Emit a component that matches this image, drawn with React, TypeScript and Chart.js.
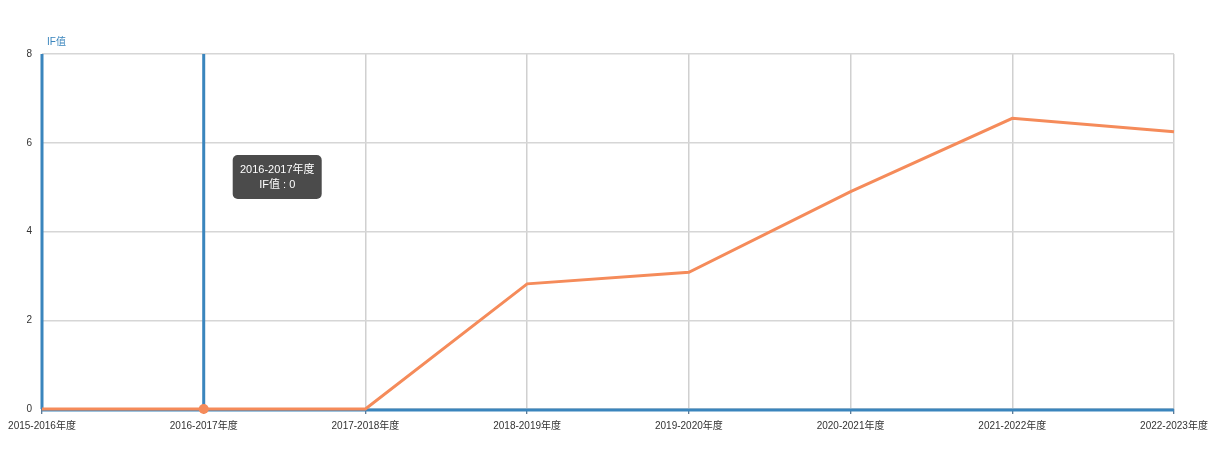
import React, { useEffect, useRef } from "react";
import { Chart, registerables } from "chart.js";

Chart.register(...registerables);

const categories = [
  "2015-2016年度",
  "2016-2017年度",
  "2017-2018年度",
  "2018-2019年度",
  "2019-2020年度",
  "2020-2021年度",
  "2021-2022年度",
  "2022-2023年度",
];
const ifValues = [0, 0, 0, 2.82, 3.08, 4.9, 6.55, 6.25];
const yTicks = [0, 2, 4, 6, 8];
const axisTitle = "IF值";
const activeIndex = 1;

const FONT = "'Liberation Sans', Arial, 'Noto Sans CJK SC', sans-serif";

const overlayPlugin = {
  id: "overlay",
  beforeDatasetsDraw(chart: any) {
    const { ctx, chartArea, scales } = chart;
    const x = scales.x.getPixelForValue(activeIndex);
    ctx.save();
    ctx.strokeStyle = "#3a85bd";
    ctx.lineWidth = 3;
    ctx.beginPath();
    ctx.moveTo(x, chartArea.top);
    ctx.lineTo(x, chartArea.bottom);
    ctx.stroke();
    ctx.beginPath();
    ctx.moveTo(chartArea.left, chartArea.top);
    ctx.lineTo(chartArea.left, chartArea.bottom);
    ctx.stroke();
    ctx.beginPath();
    ctx.moveTo(chartArea.left, chartArea.bottom + 1);
    ctx.lineTo(chartArea.right, chartArea.bottom + 1);
    ctx.stroke();
    ctx.fillStyle = "#3a85bd";
    ctx.font = `10px ${FONT}`;
    ctx.textAlign = "left";
    ctx.textBaseline = "middle";
    ctx.fillText(axisTitle, chartArea.left + 5, chartArea.top - 12);
    ctx.restore();
  },
  afterDatasetsDraw(chart: any) {
    const { ctx, chartArea, scales } = chart;
    const x = scales.x.getPixelForValue(activeIndex);
    const bx = x + 29;
    const by = chartArea.top + 101;
    const bw = 89;
    const bh = 44;
    ctx.save();
    ctx.fillStyle = "rgba(50,50,50,0.88)";
    ctx.beginPath();
    (ctx as any).roundRect(bx, by, bw, bh, 5);
    ctx.fill();
    ctx.fillStyle = "#fff";
    ctx.font = `11px ${FONT}`;
    ctx.textAlign = "center";
    ctx.textBaseline = "middle";
    ctx.fillText(categories[activeIndex], bx + bw / 2, by + 15);
    ctx.fillText(`${axisTitle} : ${ifValues[activeIndex]}`, bx + bw / 2, by + 30);
    ctx.restore();
  },
};

export default function App() {
  const ref = useRef<HTMLCanvasElement>(null);
  useEffect(() => {
    document.body.style.margin = "0";
    const chart = new Chart(ref.current!, {
      type: "line",
      data: {
        labels: categories,
        datasets: [
          {
            data: ifValues,
            borderColor: "#f58b5a",
            backgroundColor: "#f58b5a",
            borderWidth: 3,
            pointRadius: ifValues.map((_, i) => (i === activeIndex ? 5 : 0)),
            pointBorderWidth: 0,
            tension: 0,
            clip: false as any,
          },
        ],
      },
      options: {
        animation: false,
        responsive: false,
        maintainAspectRatio: false,
        layout: { padding: { left: 0, right: 49, top: 54, bottom: 0 } },
        plugins: { legend: { display: false }, tooltip: { enabled: false } },
        scales: {
          x: {
            type: "category",
            offset: false,
            border: { display: false },
            grid: {
              color: "#d0d0d0",
              lineWidth: 1.5,
              tickColor: "#2a4f73",
              tickLength: 5,
              tickWidth: 1,
            },
            ticks: {
              color: "#333",
              font: { size: 10, family: FONT },
              padding: 6,
              maxRotation: 0,
              autoSkip: false,
            },
            afterFit(scale: any) {
              scale.height = 46;
            },
          },
          y: {
            min: 0,
            max: 8,
            border: { display: false },
            afterBuildTicks(scale: any) {
              scale.ticks = yTicks.map((v) => ({ value: v }));
            },
            grid: { color: "#d6d6d6", lineWidth: 1.5, drawTicks: false },
            ticks: {
              color: "#333",
              font: { size: 10, family: FONT },
              padding: 10,
            },
            afterFit(scale: any) {
              scale.width = 42;
            },
          },
        },
      },
      plugins: [overlayPlugin],
    });
    return () => chart.destroy();
  }, []);
  return (
    <div style={{ width: 1223, height: 455 }}>
      <canvas ref={ref} width={1223} height={455} style={{ display: "block", width: 1223, height: 455 }} />
    </div>
  );
}
